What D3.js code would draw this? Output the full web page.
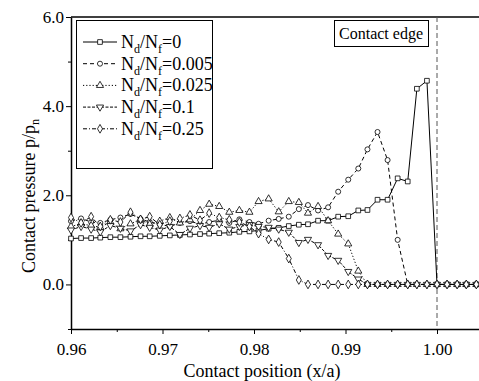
<!DOCTYPE html>
<html>
<head>
<meta charset="utf-8">
<script src="https://cdn.jsdelivr.net/npm/d3@7"></script>
<style>
  body { margin: 0; background: #fff; }
  svg text { font-family: "Liberation Serif", "DejaVu Serif", serif; fill: #000; }
</style>
</head>
<body>
<svg id="chart" width="479" height="381"></svg>
<script>
// contact position x/a (mesh nodes)
const positions = [0.9600, 0.9611, 0.9622, 0.9632, 0.9643, 0.9654, 0.9665, 0.9676, 0.9686, 0.9697,
  0.9708, 0.9719, 0.9730, 0.9741, 0.9751, 0.9762, 0.9773, 0.9784, 0.9795, 0.9805,
  0.9816, 0.9827, 0.9838, 0.9849, 0.9859, 0.9870, 0.9881, 0.9892, 0.9903, 0.9914,
  0.9924, 0.9935, 0.9946, 0.9957, 0.9968, 0.9978, 0.9989, 1.0000, 1.0011, 1.0022,
  1.0032, 1.0043];

const ratio0 = [1.03, 1.04, 1.04, 1.05, 1.06, 1.06, 1.07, 1.08, 1.08, 1.09,
  1.10, 1.11, 1.12, 1.13, 1.14, 1.15, 1.16, 1.18, 1.19, 1.21,
  1.25, 1.27, 1.31, 1.34, 1.35, 1.43, 1.43, 1.52, 1.53, 1.66,
  1.67, 1.90, 1.90, 2.38, 2.31, 4.39, 4.57, 0, 0, 0, 0, 0];
const ratio0005 = [1.42, 1.48, 1.40, 1.38, 1.45, 1.50, 1.58, 1.47, 1.40, 1.35,
  1.30, 1.38, 1.42, 1.35, 1.40, 1.44, 1.38, 1.46, 1.40, 1.36,
  1.43, 1.47, 1.52, 1.69, 1.78, 1.66, 1.73, 2.08, 2.35, 2.60,
  3.03, 3.42, 2.79, 1.00, 0, 0, 0, 0, 0, 0, 0, 0];
const ratio0025 = [1.30, 1.36, 1.32, 1.28, 1.40, 1.25, 1.36, 1.46, 1.35, 1.42,
  1.50, 1.38, 1.45, 1.66, 1.80, 1.75, 1.62, 1.66, 1.62, 1.86,
  1.92, 1.63, 1.86, 1.84, 1.60, 1.75, 1.43, 1.13, 0.91, 0.30,
  0, 0, 0, 0, 0, 0, 0, 0, 0, 0, 0, 0];
const ratio01 = [1.22, 1.30, 1.24, 1.18, 1.32, 1.26, 1.20, 1.34, 1.28, 1.22,
  1.30, 1.12, 1.26, 1.32, 1.28, 1.36, 1.24, 1.30, 1.34, 1.30,
  1.28, 1.24, 1.17, 0.94, 1.01, 0.89, 0.65, 0.54, 0.29, 0.12,
  0, 0, 0, 0, 0, 0, 0, 0, 0, 0, 0, 0];
const ratio025 = [1.50, 1.38, 1.52, 1.30, 1.45, 1.40, 1.62, 1.46, 1.52, 1.34,
  1.42, 1.48, 1.56, 1.44, 1.60, 1.50, 1.45, 1.40, 1.30, 1.14,
  1.01, 0.95, 0.58, 0.10, 0, 0, 0, 0, 0, 0,
  0, 0, 0, 0, 0, 0, 0, 0, 0, 0, 0, 0];

const legendValues = ['0', '0.005', '0.025', '0.1', '0.25'];
const xTicks = [0.96, 0.97, 0.98, 0.99, 1.00];
const yTicks = [0, 2, 4, 6];

const series = [
  { label: legendValues[0], values: ratio0, dash: null, symbol: d3.symbolSquare, size: 22, rot: 0 },
  { label: legendValues[1], values: ratio0005, dash: '4,3', symbol: d3.symbolCircle, size: 20, rot: 0 },
  { label: legendValues[2], values: ratio0025, dash: '1.2,2', symbol: d3.symbolTriangle, size: 22, rot: 0 },
  { label: legendValues[3], values: ratio01, dash: '3,1.5', symbol: d3.symbolTriangle, size: 22, rot: 180 },
  { label: legendValues[4], values: ratio025, dash: '4,2,1,2', symbol: d3.symbolDiamond, size: 22, rot: 0 }
];

const margin = {top: 17, left: 71, bottom: 329};
const svg = d3.select('#chart');

const x = d3.scaleLinear().domain([0.96, 1.005]).range([margin.left, margin.left + 4.5 * 91.5]);
const y = d3.scaleLinear().domain([-1, 6]).range([margin.bottom, margin.top]);

// frame: top border
svg.append('line')
  .attr('x1', margin.left).attr('x2', 479)
  .attr('y1', margin.top).attr('y2', margin.top)
  .attr('stroke', '#000').attr('stroke-width', 1.5);

// contact edge marker
svg.append('line')
  .attr('x1', x(1.0)).attr('x2', x(1.0))
  .attr('y1', margin.top).attr('y2', margin.bottom)
  .attr('stroke', '#555').attr('stroke-width', 1)
  .attr('stroke-dasharray', '5,3');

const xAxis = svg.append('g')
  .attr('transform', 'translate(0,' + margin.bottom + ')')
  .call(d3.axisBottom(x).tickValues(xTicks).tickFormat(d3.format('.2f')).tickSize(5).tickSizeOuter(0));
svg.append('g')
  .attr('transform', 'translate(0,' + margin.bottom + ')')
  .call(d3.axisBottom(x).tickValues([0.965, 0.975, 0.985, 0.995]).tickFormat('').tickSize(3).tickSizeOuter(0))
  .select('.domain').remove();

const yAxis = svg.append('g')
  .attr('transform', 'translate(' + margin.left + ',0)')
  .call(d3.axisLeft(y).tickValues(yTicks).tickFormat(d3.format('.1f')).tickSize(5).tickSizeOuter(0));
svg.append('g')
  .attr('transform', 'translate(' + margin.left + ',0)')
  .call(d3.axisLeft(y).tickValues([-1, 1, 3, 5]).tickFormat('').tickSize(3).tickSizeOuter(0))
  .select('.domain').remove();

svg.selectAll('.domain').attr('stroke-width', 1.5);
xAxis.selectAll('text').attr('font-size', 17).attr('dy', '1.05em');
yAxis.selectAll('text').attr('font-size', 17).attr('x', -7);

svg.append('text')
  .attr('x', 262).attr('y', 377)
  .attr('text-anchor', 'middle').attr('font-size', 18)
  .text('Contact position (x/a)');

const yTitle = svg.append('text')
  .attr('transform', 'translate(35,' + 196 + ') rotate(-90)')
  .attr('text-anchor', 'middle').attr('font-size', 18);
yTitle.append('tspan').text('Contact pressure p/p');
yTitle.append('tspan').attr('dy', 4).attr('font-size', 12).text('n');

// curves
const line = d3.line().x(d => x(d[0])).y(d => y(d[1]));
series.forEach(s => {
  const pts = positions.map((p, i) => [p, s.values[i]]);
  svg.append('path')
    .datum(pts)
    .attr('d', line)
    .attr('fill', 'none')
    .attr('stroke', '#000')
    .attr('stroke-width', 1)
    .attr('stroke-dasharray', s.dash);
  svg.append('g').selectAll('path')
    .data(pts)
    .enter().append('path')
    .attr('d', d3.symbol().type(s.symbol).size(s.size))
    .attr('transform', d => 'translate(' + x(d[0]) + ',' + y(d[1]) + ') rotate(' + s.rot + ')')
    .attr('fill', '#fff')
    .attr('stroke', '#000')
    .attr('stroke-width', 0.8);
});

// legend
const legend = svg.append('g');
legend.append('rect')
  .attr('x', 76.5).attr('y', 20.5).attr('width', 136).attr('height', 148)
  .attr('fill', '#fff').attr('stroke', '#000').attr('stroke-width', 1);
series.forEach((s, i) => {
  const ly = 42 + i * 21.7;
  legend.append('line')
    .attr('x1', 83).attr('x2', 117).attr('y1', ly).attr('y2', ly)
    .attr('stroke', '#000').attr('stroke-width', 1)
    .attr('stroke-dasharray', s.dash);
  legend.append('path')
    .attr('d', d3.symbol().type(s.symbol).size(s.size))
    .attr('transform', 'translate(100,' + ly + ') rotate(' + s.rot + ')')
    .attr('fill', '#fff').attr('stroke', '#000').attr('stroke-width', 0.8);
  const t = legend.append('text')
    .attr('x', 121).attr('y', ly + 6).attr('font-size', 18);
  t.append('tspan').text('N');
  t.append('tspan').attr('dy', 5).attr('font-size', 12).text('d');
  t.append('tspan').attr('dy', -5).text('/N');
  t.append('tspan').attr('dy', 5).attr('font-size', 12).text('f');
  t.append('tspan').attr('dy', -5).text('=' + s.label);
});

// contact edge label
svg.append('rect')
  .attr('x', 334.5).attr('y', 20.5).attr('width', 94).attr('height', 26)
  .attr('fill', '#fff').attr('stroke', '#000').attr('stroke-width', 1);
svg.append('text')
  .attr('x', 381).attr('y', 39)
  .attr('text-anchor', 'middle').attr('font-size', 16)
  .text('Contact edge');
</script>
</body>
</html>
